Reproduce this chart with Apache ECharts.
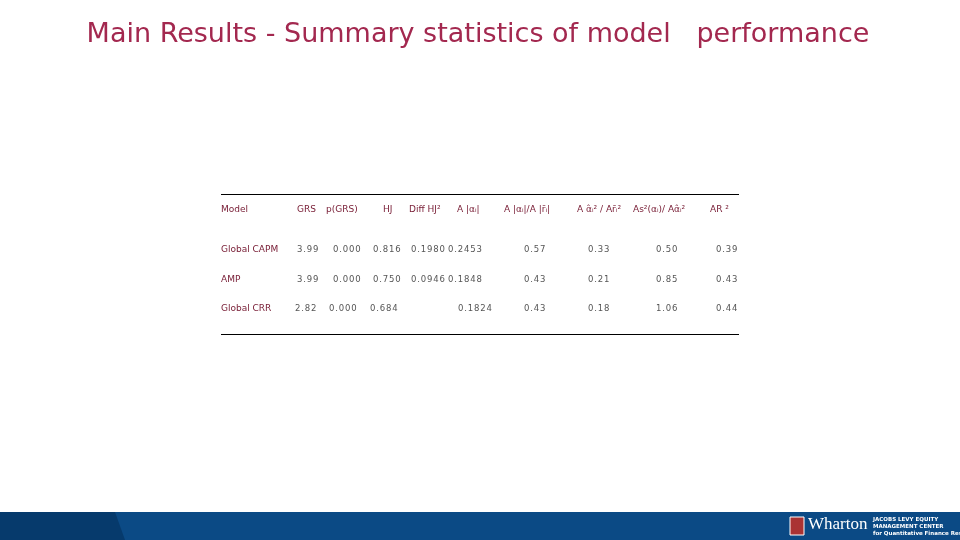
<!DOCTYPE html>
<html><head><meta charset="utf-8">
<script src="https://cdn.jsdelivr.net/npm/echarts@6/dist/echarts.min.js"></script>
<style>html,body{margin:0;padding:0;background:#fff}#c{width:960px;height:540px}</style>
</head><body><div id="c"></div>
<script>
const headers = ['Model','GRS','p(GRS)','HJ','Diff HJ²','A |αᵢ|','A |αᵢ|/A |r̄ᵢ|','A α̂ᵢ² / Ar̄ᵢ²','As²(αᵢ)/ Aα̂ᵢ²','AR ²'];
const models = ['Global CAPM','AMP','Global CRR'];
const grs = ['3.99','3.99','2.82'];
const pgrs = ['0.000','0.000','0.000'];
const hj = ['0.816','0.750','0.684'];
const diffHJ = ['0.1980','0.0946',''];
const absAlpha = ['0.2453','0.1848','0.1824'];
const ratio1 = ['0.57','0.43','0.43'];
const ratio2 = ['0.33','0.21','0.18'];
const ratio3 = ['0.50','0.85','1.06'];
const ar2 = ['0.39','0.43','0.44'];

const font = '"DejaVu Sans", Verdana, sans-serif';
const g = [];
const txt = (x,y,t,color,size) => g.push({type:'text',x:x,y:y,style:{text:t,fill:color,font:`${size||9}px ${font}`,verticalAlign:'middle',textVerticalAlign:'middle'}});
g.push({type:'text',x:478,y:35,style:{text:'Main Results - Summary statistics of model   performance',fill:'#a3284f',font:`27px "DejaVu Sans", sans-serif`,align:'center',verticalAlign:'middle',textAlign:'center',textVerticalAlign:'middle'}});
g.push({type:'line',shape:{x1:221,y1:194.5,x2:739,y2:194.5},style:{stroke:'#000',lineWidth:1}});
g.push({type:'line',shape:{x1:221,y1:334.5,x2:739,y2:334.5},style:{stroke:'#000',lineWidth:1}});
const hx = [221,297,326,383,409,457,504,577,633,710];
headers.forEach((h,i)=>txt(hx[i],210,h,'#7a2038',9));
const cols = [[],grs,pgrs,hj,diffHJ,absAlpha,ratio1,ratio2,ratio3,ar2];
const xs = [
 [221,297,333,373,411,448,524,588,656,716],
 [221,297,333,373,411,448,524,588,656,716],
 [221,295,329,370,0,458,524,588,656,716]];
const ys=[250,280,309];
models.forEach((m,r)=>{
  txt(xs[r][0],ys[r],m,'#7a2038',9);
  for(let c=1;c<cols.length;c++){ if(cols[c][r]) txt(xs[r][c],ys[r],cols[c][r].split('').join('\u200a'),'#555',8.5); }
});
g.push({type:'rect',shape:{x:0,y:512,width:960,height:28},style:{fill:'#0b4a85'}});
g.push({type:'polygon',shape:{points:[[0,512],[115,512],[125,540],[0,540]]},style:{fill:'#063a6c'}});
g.push({type:'text',x:808,y:516,style:{text:'Wharton',fill:'#fff',font:'17px "Liberation Serif", serif'}});
g.push({type:'rect',shape:{x:790,y:517,width:14,height:18},style:{fill:'#a33',stroke:'#fff'}});
g.push({type:'text',x:873,y:516,style:{text:'JACOBS LEVY EQUITY\nMANAGEMENT CENTER\nfor Quantitative Finance Research',fill:'#fff',font:'bold 5.5px "DejaVu Sans", sans-serif',lineHeight:7}});
const chart = echarts.init(document.getElementById('c'));
chart.setOption({animation:false,graphic:g});
</script></body></html>
